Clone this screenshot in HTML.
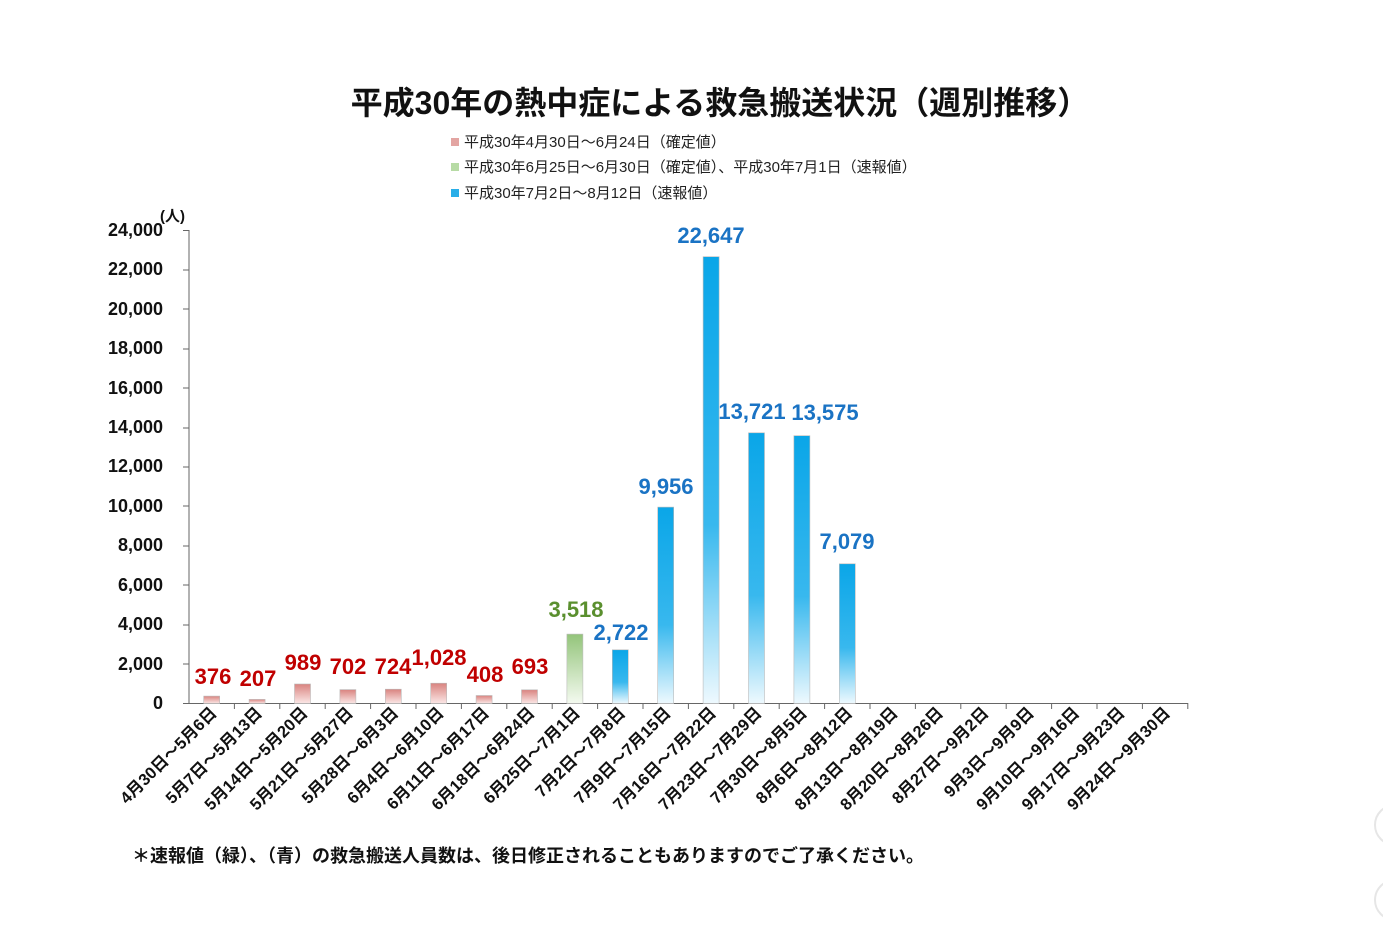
<!DOCTYPE html>
<html><head><meta charset="utf-8"><style>
body{margin:0;background:#fff;}
svg text{font-family:"Liberation Sans","Noto Sans CJK JP",sans-serif;}
</style></head><body>
<svg width="1383" height="926" xmlns="http://www.w3.org/2000/svg">
<defs>
<linearGradient id="r" x1="0" y1="0" x2="0" y2="1"><stop offset="0" stop-color="#d9837f"/><stop offset="1" stop-color="#fbe7e6"/></linearGradient>
<linearGradient id="g" x1="0" y1="0" x2="0" y2="1"><stop offset="0" stop-color="#93c47a"/><stop offset="1" stop-color="#f4faf0"/></linearGradient>
<linearGradient id="b" x1="0" y1="0" x2="0" y2="1"><stop offset="0" stop-color="#0aa6e8"/><stop offset="0.6" stop-color="#38b8ee"/><stop offset="1" stop-color="#eef9fe"/></linearGradient>
</defs>
<text x="720" y="114" text-anchor="middle" font-size="32" font-weight="bold" fill="#111">平成30年の熱中症による救急搬送状況（週別推移）</text>
<g font-size="15" fill="#222">
<rect x="451" y="138" width="8" height="8" fill="#e3a5a2"/><text x="464" y="147">平成30年4月30日～6月24日（確定値）</text>
<rect x="451" y="163" width="8" height="8" fill="#b7dba5"/><text x="464" y="172">平成30年6月25日～6月30日（確定値）、平成30年7月1日（速報値）</text>
<rect x="451" y="189" width="8" height="8" fill="#29aee8"/><text x="464" y="198">平成30年7月2日～8月12日（速報値）</text>
</g>
<text x="160" y="221" font-size="15" font-weight="bold" fill="#111">(人)</text>
<g font-size="18" font-weight="bold" fill="#111" text-anchor="end">
<text x="163" y="709">0</text><text x="163" y="670">2,000</text><text x="163" y="630">4,000</text><text x="163" y="591">6,000</text><text x="163" y="551">8,000</text><text x="163" y="512">10,000</text><text x="163" y="472">12,000</text><text x="163" y="433">14,000</text><text x="163" y="394">16,000</text><text x="163" y="354">18,000</text><text x="163" y="315">20,000</text><text x="163" y="275">22,000</text><text x="163" y="236">24,000</text>
</g>
<g stroke="#666" stroke-width="1">
<line x1="189" y1="230" x2="189" y2="704"/>
<line x1="183" y1="703.5" x2="1188" y2="703.5"/>
<line x1="183" y1="664" x2="189" y2="664"/><line x1="183" y1="625" x2="189" y2="625"/><line x1="183" y1="585" x2="189" y2="585"/><line x1="183" y1="546" x2="189" y2="546"/><line x1="183" y1="506" x2="189" y2="506"/><line x1="183" y1="467" x2="189" y2="467"/><line x1="183" y1="428" x2="189" y2="428"/><line x1="183" y1="388" x2="189" y2="388"/><line x1="183" y1="349" x2="189" y2="349"/><line x1="183" y1="309" x2="189" y2="309"/><line x1="183" y1="270" x2="189" y2="270"/><line x1="183" y1="230.5" x2="189" y2="230.5"/>
<line x1="234.4" y1="703" x2="234.4" y2="709"/><line x1="279.8" y1="703" x2="279.8" y2="709"/><line x1="325.2" y1="703" x2="325.2" y2="709"/><line x1="370.6" y1="703" x2="370.6" y2="709"/><line x1="416" y1="703" x2="416" y2="709"/><line x1="461.4" y1="703" x2="461.4" y2="709"/><line x1="506.8" y1="703" x2="506.8" y2="709"/><line x1="552.2" y1="703" x2="552.2" y2="709"/><line x1="597.6" y1="703" x2="597.6" y2="709"/><line x1="643" y1="703" x2="643" y2="709"/><line x1="688.4" y1="703" x2="688.4" y2="709"/><line x1="733.8" y1="703" x2="733.8" y2="709"/><line x1="779.2" y1="703" x2="779.2" y2="709"/><line x1="824.6" y1="703" x2="824.6" y2="709"/><line x1="870" y1="703" x2="870" y2="709"/><line x1="915.4" y1="703" x2="915.4" y2="709"/><line x1="960.8" y1="703" x2="960.8" y2="709"/><line x1="1006.2" y1="703" x2="1006.2" y2="709"/><line x1="1051.6" y1="703" x2="1051.6" y2="709"/><line x1="1097" y1="703" x2="1097" y2="709"/><line x1="1142.4" y1="703" x2="1142.4" y2="709"/><line x1="1187.8" y1="703" x2="1187.8" y2="709"/>
</g>
<g stroke="#bbb" stroke-width="0.6">
<rect x="203.7" y="696.1" width="16" height="7.4" fill="url(#r)"/>
<rect x="249.1" y="699.4" width="16" height="4.1" fill="url(#r)"/>
<rect x="294.5" y="684.0" width="16" height="19.5" fill="url(#r)"/>
<rect x="339.9" y="689.6" width="16" height="13.9" fill="url(#r)"/>
<rect x="385.3" y="689.2" width="16" height="14.3" fill="url(#r)"/>
<rect x="430.7" y="683.2" width="16" height="20.3" fill="url(#r)"/>
<rect x="476.1" y="695.5" width="16" height="8.0" fill="url(#r)"/>
<rect x="521.5" y="689.8" width="16" height="13.7" fill="url(#r)"/>
<rect x="566.9" y="634.1" width="16" height="69.4" fill="url(#g)"/>
<rect x="612.3" y="649.8" width="16" height="53.7" fill="url(#b)"/>
<rect x="657.7" y="507.1" width="16" height="196.4" fill="url(#b)"/>
<rect x="703.1" y="256.7" width="16" height="446.8" fill="url(#b)"/>
<rect x="748.5" y="432.8" width="16" height="270.7" fill="url(#b)"/>
<rect x="793.9" y="435.7" width="16" height="267.8" fill="url(#b)"/>
<rect x="839.3" y="563.8" width="16" height="139.7" fill="url(#b)"/>
</g>
<g font-size="22" font-weight="bold" text-anchor="middle" fill="#c00000">
<text x="213" y="684">376</text><text x="258" y="686">207</text><text x="303" y="670">989</text><text x="348" y="674">702</text><text x="393" y="674">724</text><text x="439" y="665">1,028</text><text x="485" y="682">408</text><text x="530" y="674">693</text>
</g>
<g font-size="22" font-weight="bold" text-anchor="middle">
<text x="576" y="617" fill="#5a8f2e">3,518</text>
<g fill="#1a73c4"><text x="621" y="640">2,722</text><text x="666" y="494">9,956</text><text x="711" y="243">22,647</text><text x="752" y="419">13,721</text><text x="825" y="420">13,575</text><text x="847" y="549">7,079</text></g>
</g>
<g font-size="16.5" font-weight="bold" fill="#111" text-anchor="end">
<text transform="translate(217.7,714) rotate(-45)">4月30日～5月6日</text>
<text transform="translate(263.1,714) rotate(-45)">5月7日～5月13日</text>
<text transform="translate(308.5,714) rotate(-45)">5月14日～5月20日</text>
<text transform="translate(353.9,714) rotate(-45)">5月21日～5月27日</text>
<text transform="translate(399.3,714) rotate(-45)">5月28日～6月3日</text>
<text transform="translate(444.7,714) rotate(-45)">6月4日～6月10日</text>
<text transform="translate(490.1,714) rotate(-45)">6月11日～6月17日</text>
<text transform="translate(535.5,714) rotate(-45)">6月18日～6月24日</text>
<text transform="translate(580.9,714) rotate(-45)">6月25日～7月1日</text>
<text transform="translate(626.3,714) rotate(-45)">7月2日～7月8日</text>
<text transform="translate(671.7,714) rotate(-45)">7月9日～7月15日</text>
<text transform="translate(717.1,714) rotate(-45)">7月16日～7月22日</text>
<text transform="translate(762.5,714) rotate(-45)">7月23日～7月29日</text>
<text transform="translate(807.9,714) rotate(-45)">7月30日～8月5日</text>
<text transform="translate(853.3,714) rotate(-45)">8月6日～8月12日</text>
<text transform="translate(898.7,714) rotate(-45)">8月13日～8月19日</text>
<text transform="translate(944.1,714) rotate(-45)">8月20日～8月26日</text>
<text transform="translate(989.5,714) rotate(-45)">8月27日～9月2日</text>
<text transform="translate(1034.9,714) rotate(-45)">9月3日～9月9日</text>
<text transform="translate(1080.3,714) rotate(-45)">9月10日～9月16日</text>
<text transform="translate(1125.7,714) rotate(-45)">9月17日～9月23日</text>
<text transform="translate(1171.1,714) rotate(-45)">9月24日～9月30日</text>
</g>
<text x="132" y="862" font-size="18" font-weight="bold" fill="#111">＊速報値（緑）、（青）の救急搬送人員数は、後日修正されることもありますのでご了承ください。</text>
<g fill="none" stroke="#e6e6e6" stroke-width="2"><circle cx="1395" cy="825" r="20"/><circle cx="1395" cy="900" r="20"/></g>
</svg>
</body></html>
